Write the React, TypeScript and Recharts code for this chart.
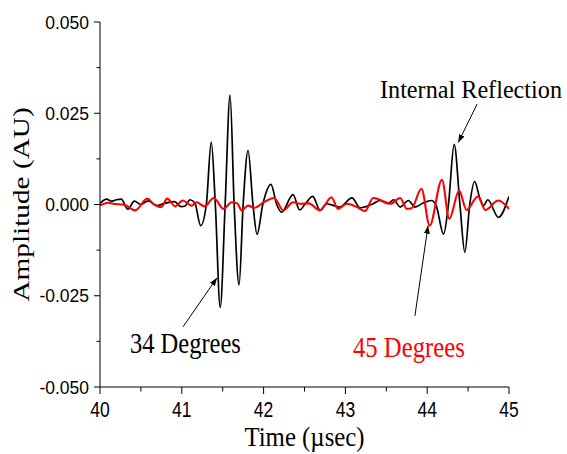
import { Line, LineChart, ReferenceLine, XAxis, YAxis } from "recharts";

// black trace: 34 degrees
const blackTimes = [
  40.0, 40.08, 40.14, 40.2, 40.26, 40.34, 40.42, 40.5, 40.59, 40.69, 40.79, 40.91, 40.99, 41.04, 41.1, 41.16,
  41.23, 41.3, 41.36, 41.41, 41.47, 41.53, 41.59, 41.64, 41.7, 41.75, 41.81, 41.87, 41.92, 41.99, 42.09, 42.16,
  42.22, 42.36, 42.44, 42.51, 42.6, 42.69, 42.77, 42.93, 43.08, 43.18, 43.34, 43.42, 43.52, 43.59, 43.67, 43.77,
  43.85, 43.95, 44.05, 44.11, 44.2, 44.26, 44.33, 44.4, 44.46, 44.52, 44.58, 44.64, 44.69, 44.74, 44.87, 45.0,
];
const blackAmps = [
  0.0003, 0.0015, 0.0009, 0.0013, 0.0015, -0.0013, 0.0009, 0.0, 0.001, -0.0003, 0.0003, 0.0008, -0.0006, -0.0004, 0.0013, 0.0004,
  -0.0058, 0.0, 0.0171, 0.0, -0.0282, 0.0, 0.03, 0.0, -0.022, 0.0, 0.0148, 0.0, -0.0082, 0.0, 0.0055, 0.0,
  -0.0021, 0.0027, -0.0015, 0.0002, 0.0022, -0.0015, 0.0002, -0.0007, 0.0018, -0.0009, 0.0002, 0.0011, 0.0002, 0.0013, -0.0007, 0.0011,
  -0.0007, 0.0004, 0.0011, -0.0003, -0.0081, 0.0, 0.0165, 0.0, -0.0131, 0.0, 0.0063, 0.002, -0.0003, 0.0013, -0.0035, 0.0022,
];

// red trace: 45 degrees
const redTimes = [
  40.0, 40.1, 40.16, 40.3, 40.43, 40.58, 40.65, 40.75, 40.82, 40.92, 41.01, 41.12, 41.18, 41.28, 41.39, 41.51,
  41.61, 41.68, 41.73, 41.81, 41.89, 42.0, 42.13, 42.24, 42.36, 42.44, 42.55, 42.69, 42.83, 42.91, 43.02, 43.14,
  43.24, 43.34, 43.42, 43.55, 43.67, 43.75, 43.81, 43.93, 44.03, 44.18, 44.27, 44.39, 44.48, 44.62, 44.71, 44.87,
  45.0,
];
const redAmps = [
  -0.0003, 0.0005, 0.0002, -0.0001, -0.0016, 0.0016, 0.0002, -0.0007, 0.0016, -0.0005, 0.0011, -0.0003, 0.0006, -0.0005, 0.0018, -0.0012,
  0.0006, 0.0003, -0.0016, -0.0003, -0.0009, 0.0006, 0.0018, -0.0016, 0.0006, 0.0002, 0.0003, -0.0016, 0.002, -0.0012, 0.0002, -0.0007,
  -0.0018, 0.0018, 0.0013, 0.0002, 0.0018, -0.0012, -0.001, 0.0043, -0.0058, 0.0068, -0.0039, 0.0038, -0.0015, 0.0022, -0.0015, 0.0011,
  -0.0012,
];

const xTicks = [40, 40.5, 41, 41.5, 42, 42.5, 43, 43.5, 44, 44.5, 45];
const yTicks = [-0.05, -0.0375, -0.025, -0.0125, 0, 0.0125, 0.025, 0.0375, 0.05];

const blackData = blackTimes.map((t, i) => ({ t, v: blackAmps[i] }));
const redData = redTimes.map((t, i) => ({ t, v: redAmps[i] }));

const sans = "'Liberation Sans', Arial, sans-serif";
const serif = "'Liberation Serif', 'Times New Roman', serif";

function YTick({ x, y, payload }: any) {
  const v = payload.value as number;
  const major = Math.abs(v / 0.025 - Math.round(v / 0.025)) < 1e-6;
  return (
    <g>
      <line x1={x - (major ? 6 : 3.5)} x2={x} y1={y} y2={y} stroke="#000" />
      {major && (
        <text
          transform={`translate(${x - 11},${y + 6.5}) scale(1,1.1)`}
          textAnchor="end"
          fontFamily={sans}
          fontSize={17.5}
          fill="#000"
        >
          {v.toFixed(3)}
        </text>
      )}
    </g>
  );
}

function XTick({ x, y, payload }: any) {
  const v = payload.value as number;
  const major = Number.isInteger(v);
  return (
    <g>
      <line x1={x} x2={x} y1={y} y2={y + (major ? 7 : 4.5)} stroke="#000" />
      {major && (
        <text
          transform={`translate(${x},${y + 29.8}) scale(1,1.22)`}
          textAnchor="middle"
          fontFamily={sans}
          fontSize={17.5}
          fill="#000"
        >
          {v}
        </text>
      )}
    </g>
  );
}

export default function App() {
  return (
    <div style={{ position: "absolute", left: 0, top: 0, width: 567, height: 454, background: "#fff" }}>
      <LineChart width={567} height={454} margin={{ top: 22, right: 58, bottom: 0, left: 0 }}>
        <XAxis
          dataKey="t"
          type="number"
          domain={[40, 45]}
          ticks={xTicks}
          interval={0}
          height={67}
          tickSize={0}
          tickMargin={0}
          tickLine={false}
          axisLine={{ stroke: "#000" }}
          tick={<XTick />}
          allowDataOverflow
        />
        <YAxis
          dataKey="v"
          type="number"
          domain={[-0.05, 0.05]}
          ticks={yTicks}
          interval={0}
          width={100}
          tickSize={0}
          tickMargin={0}
          tickLine={false}
          axisLine={{ stroke: "#000" }}
          tick={<YTick />}
          allowDataOverflow
        />
        <Line data={blackData} dataKey="v" type="monotone" stroke="#000" strokeWidth={1.7} dot={false} isAnimationActive={false} />
        <Line data={redData} dataKey="v" type="monotone" stroke="#ff0000" strokeWidth={2.1} dot={false} isAnimationActive={false} />
        <ReferenceLine
          segment={[{ x: 41.015, y: -0.0335 }, { x: 41.43, y: -0.0201 }]}
          stroke="#000"
          strokeWidth={1}
          markerEnd="url(#arrowHead)"
          ifOverflow="visible"
        />
        <ReferenceLine
          segment={[{ x: 43.85, y: -0.0305 }, { x: 44.01, y: -0.0058 }]}
          stroke="#000"
          strokeWidth={1}
          markerEnd="url(#arrowHead)"
          ifOverflow="visible"
        />
        <ReferenceLine
          segment={[{ x: 44.61, y: 0.0275 }, { x: 44.38, y: 0.017 }]}
          stroke="#000"
          strokeWidth={1}
          markerEnd="url(#arrowHead)"
          ifOverflow="visible"
        />
      </LineChart>
      <svg width={567} height={454} style={{ position: "absolute", left: 0, top: 0, pointerEvents: "none" }}>
        <defs>
          <marker id="arrowHead" markerUnits="userSpaceOnUse" markerWidth={8} markerHeight={6} refX={8} refY={3} orient="auto">
            <path d="M0,0 L8,3 L0,6 z" fill="#000" />
          </marker>
        </defs>
        <text transform="translate(304.5,446) scale(1,1.08)" textAnchor="middle" fontFamily={serif} fontSize={24.8} fill="#000">
          Time (µsec)
        </text>
        <text transform="translate(28.5,204.5) rotate(-90) scale(1.22,1)" textAnchor="middle" fontFamily={serif} fontSize={24} fill="#000">
          Amplitude (AU)
        </text>
        <text transform="translate(130,353) scale(1,1.2)" fontFamily={serif} fontSize={24.5} fill="#000">
          34 Degrees
        </text>
        <text transform="translate(353,357) scale(1,1.22)" fontFamily={serif} fontSize={24.7} fill="#ff0000">
          45 Degrees
        </text>
        <text transform="translate(380,98) scale(1,1.05)" fontFamily={serif} fontSize={24.2} fill="#000">
          Internal Reflection
        </text>
      </svg>
    </div>
  );
}
